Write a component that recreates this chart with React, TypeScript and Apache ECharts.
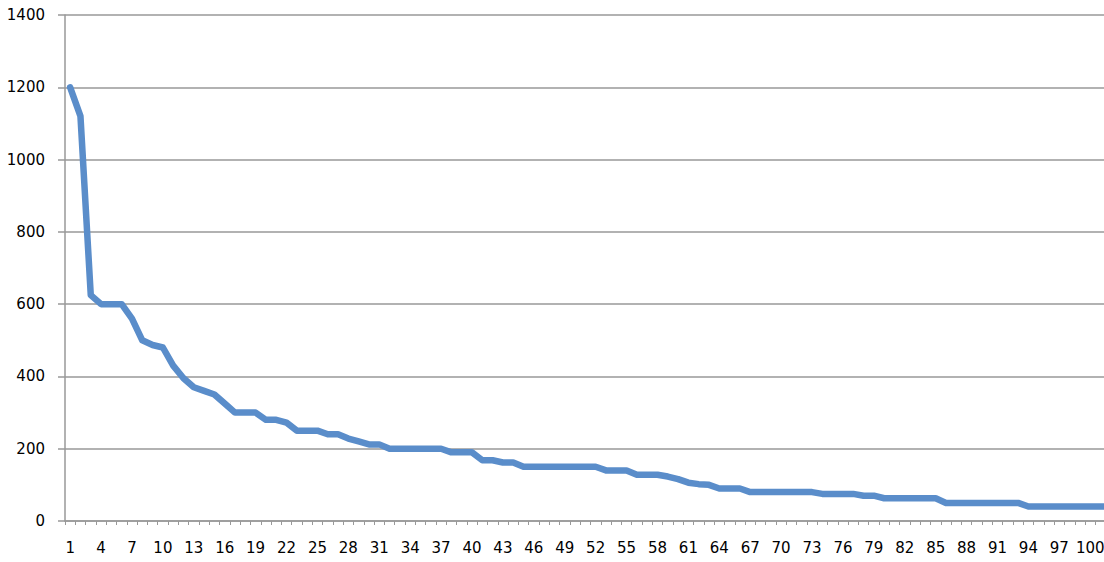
import React, { useEffect, useRef } from "react";
import * as echarts from "echarts";

// Categories 1..102 (the reference is cropped just past category 100; the line runs on to the edge)
const categories: string[] = Array.from({ length: 102 }, (_, i) => String(i + 1));

const valuesA: number[] = [
  1200, 1120, 625, 600, 600, 600, 560, 500, 487, 480,
  430, 395, 370, 360, 350, 325, 300, 300, 300, 280,
  280, 272, 250, 250, 250, 240, 240, 228, 220, 212,
  212, 200,
];
const valuesB: number[] = [
  200, 200, 200, 200, 200,
  190, 190, 190,
  168, 168, 162, 162,
  150, 150, 150, 150, 150, 150, 150, 150,
  140, 140, 140,
  128, 128, 128,
  123, 116, 106, 102, 100,
];
const valuesC: number[] = [
  90, 90, 90,
  80, 80, 80, 80, 80, 80, 80,
  75, 75, 75, 75,
  70, 70,
  63, 63, 63, 63, 63, 63,
  50, 50, 50, 50, 50, 50, 50, 50,
  40, 40, 40, 40, 40, 40, 40,
  40, 40,
];
const seriesValues: number[] = [...valuesA, ...valuesB, ...valuesC];

const yTicks = { min: 0, max: 1400, interval: 200 };

export default function App() {
  const ref = useRef<HTMLDivElement>(null);
  useEffect(() => {
    if (!ref.current) return;
    const chart = echarts.init(ref.current, undefined, { renderer: "svg" });
    const font = "DejaVu Sans";
    chart.setOption({
      animation: false,
      backgroundColor: "#ffffff",
      grid: {
        left: 65,
        right: 0,
        top: 15,
        bottom: 41,
        containLabel: false,
        outerBoundsMode: "none",
      },
      xAxis: {
        type: "category",
        data: categories,
        boundaryGap: true,
        axisLine: { show: true, lineStyle: { color: "#999999", width: 1.5 } },
        axisTick: { show: true, interval: 0, length: 4, lineStyle: { color: "#999999", width: 1 } },
        axisLabel: {
          interval: 2,
          color: "#000000",
          fontFamily: font,
          fontSize: 15,
          margin: 19,
          hideOverlap: false,
        },
        splitLine: { show: false },
      },
      yAxis: {
        type: "value",
        min: yTicks.min,
        max: yTicks.max,
        interval: yTicks.interval,
        axisLine: { show: true, lineStyle: { color: "#999999", width: 1.5 } },
        axisTick: { show: true, length: 7, lineStyle: { color: "#999999", width: 1.5 } },
        axisLabel: {
          color: "#000000",
          fontFamily: font,
          fontSize: 15,
          margin: 20,
          formatter: (v: number) => String(v),
        },
        splitLine: { show: true, lineStyle: { color: "#999999", width: 1.5 } },
      },
      series: [
        {
          type: "line",
          data: seriesValues,
          symbol: "none",
          smooth: false,
          lineStyle: { color: "#5a8dca", width: 6.5, join: "round", cap: "round" },
          itemStyle: { color: "#5a8dca" },
        },
      ],
    });
    return () => chart.dispose();
  }, []);
  return (
    <div style={{ position: "absolute", left: 0, top: 0, width: 1104, height: 562, overflow: "hidden", background: "#fff" }}>
      <div ref={ref} style={{ width: 1116, height: 562 }} />
    </div>
  );
}
